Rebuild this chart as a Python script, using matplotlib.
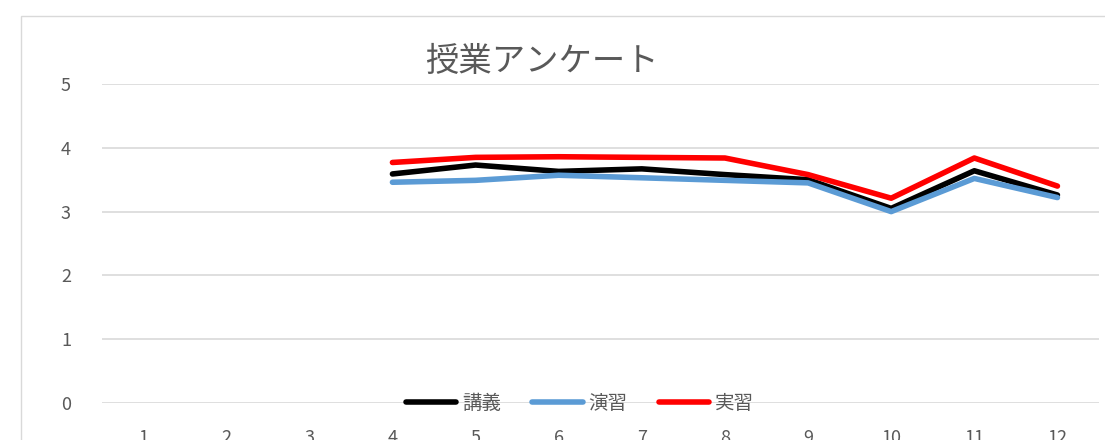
import numpy as np
import matplotlib.pyplot as plt
from matplotlib.patches import Rectangle

plt.rcParams['font.family'] = ['Noto Sans CJK JP', 'DejaVu Sans']

# data (categories 1-3 empty)
categories = [str(i) for i in range(1, 13)]
kogi = [np.nan, np.nan, np.nan, 3.59, 3.73, 3.63, 3.67, 3.58, 3.50, 3.05, 3.64, 3.26]
enshu = [np.nan, np.nan, np.nan, 3.46, 3.49, 3.57, 3.53, 3.49, 3.45, 3.00, 3.52, 3.22]
jisshu = [np.nan, np.nan, np.nan, 3.77, 3.85, 3.86, 3.85, 3.84, 3.58, 3.21, 3.84, 3.40]
yticks = [0, 1, 2, 3, 4, 5]

textcol = '#595959'
gridcol = '#D9D9D9'

fig = plt.figure(figsize=[11.05, 4.4], dpi=100)
fig.patches.append(Rectangle((21/1105, -0.1), 1.2, (440-16)/440 + 0.1,
                             transform=fig.transFigure, fill=False,
                             edgecolor=gridcol, lw=1))
ax = fig.add_axes([101.5/1105, 37/440, (1099-101.5)/1105, (403-84)/440])

x = np.arange(len(categories))
ax.plot(x, kogi, color='black', lw=4, label='講義', solid_capstyle='round')
ax.plot(x, enshu, color='#5B9BD5', lw=4, label='演習', solid_capstyle='round')
ax.plot(x, jisshu, color='#FF0000', lw=4, label='実習', solid_capstyle='round')

ax.set_xlim(-0.5, len(categories) - 0.5)
ax.set_ylim(0, 5)
ax.set_yticks(yticks)
ax.set_xticks(x)
ax.set_xticklabels(categories)
ax.grid(axis='y', color=gridcol, lw=1.2)
ax.set_axisbelow(True)
for s in ax.spines.values():
    s.set_visible(False)
ax.tick_params(axis='both', length=0, labelsize=13, labelcolor=textcol)
ax.tick_params(axis='y', pad=22)
ax.tick_params(axis='x', pad=19)

fig.text(542/1105, (440-62)/440, '授業アンケート', fontsize=24, color=textcol,
         ha='center', va='center')

ax.legend(loc='center', bbox_to_anchor=(580/1105, (440-403)/440),
          bbox_transform=fig.transFigure, ncol=3, frameon=False,
          fontsize=14, labelcolor=textcol, handlelength=2.6,
          handletextpad=0.3, columnspacing=1.6)

plt.savefig('out.png')
